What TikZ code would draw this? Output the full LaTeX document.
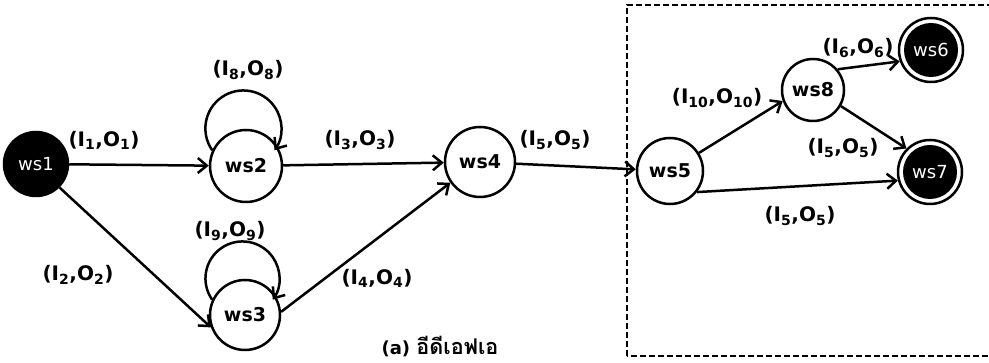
\documentclass[tikz,border=0pt]{standalone}
\usepackage{fontspec}
\setmainfont{DejaVu Sans}
\newfontfamily\thaifont[Script=Thai,Scale=1.2]{Loma}
\usetikzlibrary{arrows.meta}
\tikzset{
  st/.style={circle, draw, line width=2.5pt, fill=white, inner sep=0pt, font=\fontsize{19}{22}\selectfont\bfseries},
  fin/.style={st, font=\fontsize{18}{20}\selectfont, text=white,
     path picture={\fill[black] (path picture bounding box.center) circle (27pt);}},
  ini/.style={st, fill=black, font=\fontsize{18}{20}\selectfont, text=white},
  tr/.style={line width=2.5pt, -{Straight Barb[length=9pt,width=15pt,line width=2.5pt]}},
  lbl/.style={font=\fontsize{20}{22}\selectfont\bfseries, inner sep=1pt},
  frame/.style={line width=2.5pt, dash pattern=on 6pt off 3pt}
}
\newcommand{\io}[2]{(I\textsubscript{#1},O\textsubscript{#2})}
\begin{document}
\begin{tikzpicture}[x=1pt,y=1pt]
\useasboundingbox (0,0) rectangle (989,363);
\begin{scope}
\clip (0,0) rectangle (989,363);
\draw[frame] (627,7) rectangle (1010,358);
\end{scope}

\node[ini, minimum size=64pt] (ws1) at (36,199) {ws1};
\node[st, minimum size=72pt] (ws2) at (246,197) {ws2};
\node[st, minimum size=70pt] (ws3) at (245,48) {ws3};
\node[st, minimum size=70pt] (ws4) at (480,201) {ws4};
\node[st, minimum size=66pt] (ws5) at (670,192) {ws5};
\node[st, minimum size=62pt] (ws8) at (813,273) {ws8};
\node[fin, minimum size=64pt] (ws6) at (931,313) {ws6};
\node[fin, minimum size=64pt] (ws7) at (930,191) {ws7};

\draw[tr] (ws1) -- (ws2);
\draw[tr] (ws1.-45) -- (ws3.200);
\draw[tr] (ws2) -- (ws4);
\draw[tr] (ws3.5) -- (ws4.215);
\draw[tr] (ws4) -- (ws5);
\draw[tr] (ws5.32) -- (ws8.200);
\draw[tr] (ws5.-38) -- (ws7.195);
\draw[tr] (ws8.40) -- (ws6.200);
\draw[tr] (ws8.-30) -- (ws7.135);
\draw[tr] (ws2.155) arc[start angle=215, end angle=-35, radius=38pt];
\draw[tr] (ws3.155) arc[start angle=215, end angle=-35, radius=37pt];

\node[lbl] (l1) at (104,223) {\io{1}{1}};
\node[lbl] (l8) at (248,293) {\io{8}{8}};
\node[lbl] (l3) at (360,223) {\io{3}{3}};
\node[lbl] (l9) at (230,132) {\io{9}{9}};
\node[lbl] (l2) at (78,88) {\io{2}{2}};
\node[lbl] (l4) at (377,85) {\io{4}{4}};
\node[lbl] (l5a) at (555,223) {\io{5}{5}};
\node[lbl] (l10) at (717,265) {\io{10}{10}};
\node[lbl] (l6) at (858,315) {\io{6}{6}};
\node[lbl] (l5b) at (843,215) {\io{5}{5}};
\node[lbl] (l5c) at (800,147) {\io{5}{5}};
\node[font=\fontsize{18}{20}\selectfont\bfseries, anchor=base] (cap) at (440,8) {(a) {\thaifont อีดีเอฟเอ}};
\end{tikzpicture}
\end{document}
